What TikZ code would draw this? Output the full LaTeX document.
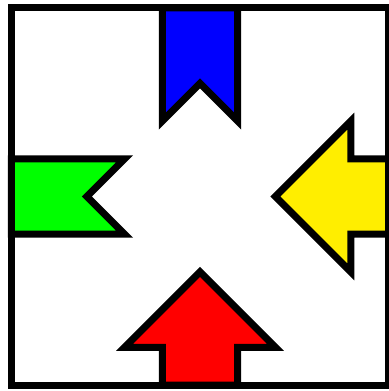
\documentclass[tikz,border=0pt]{standalone}
\usepackage{tikz}
\definecolor{flagblue}{HTML}{0000FF}
\definecolor{flaggreen}{HTML}{00FF00}
\definecolor{arrowred}{HTML}{FF0000}
\definecolor{arrowyellow}{HTML}{FFEE00}
\tikzset{sign/.style={draw=black,line width=7pt,miter limit=10}}

\begin{document}
\begin{tikzpicture}[x=37.7pt,y=37.7pt]
  \useasboundingbox (-5.305,-5.159) rectangle (4.987,5.212);
  % banners from the top and the left
  \draw[sign,fill=flagblue] (-1,5)--(-1,2)--(0,3)--(1,2)--(1,5)--cycle;
  \draw[sign,fill=flaggreen] (-5,1)--(-2,1)--(-3,0)--(-2,-1)--(-5,-1)--cycle;
  % arrows from the right and the bottom
  \draw[sign,fill=arrowyellow] (5,1)--(4,1)--(4,2)--(2,0)--(4,-2)--(4,-1)--(5,-1)--cycle;
  \draw[sign,fill=arrowred] (-1,-5)--(-1,-4)--(-2,-4)--(0,-2)--(2,-4)--(1,-4)--(1,-5)--cycle;
  \draw[sign] (-5,-5) rectangle (5,5);
\end{tikzpicture}
\end{document}
